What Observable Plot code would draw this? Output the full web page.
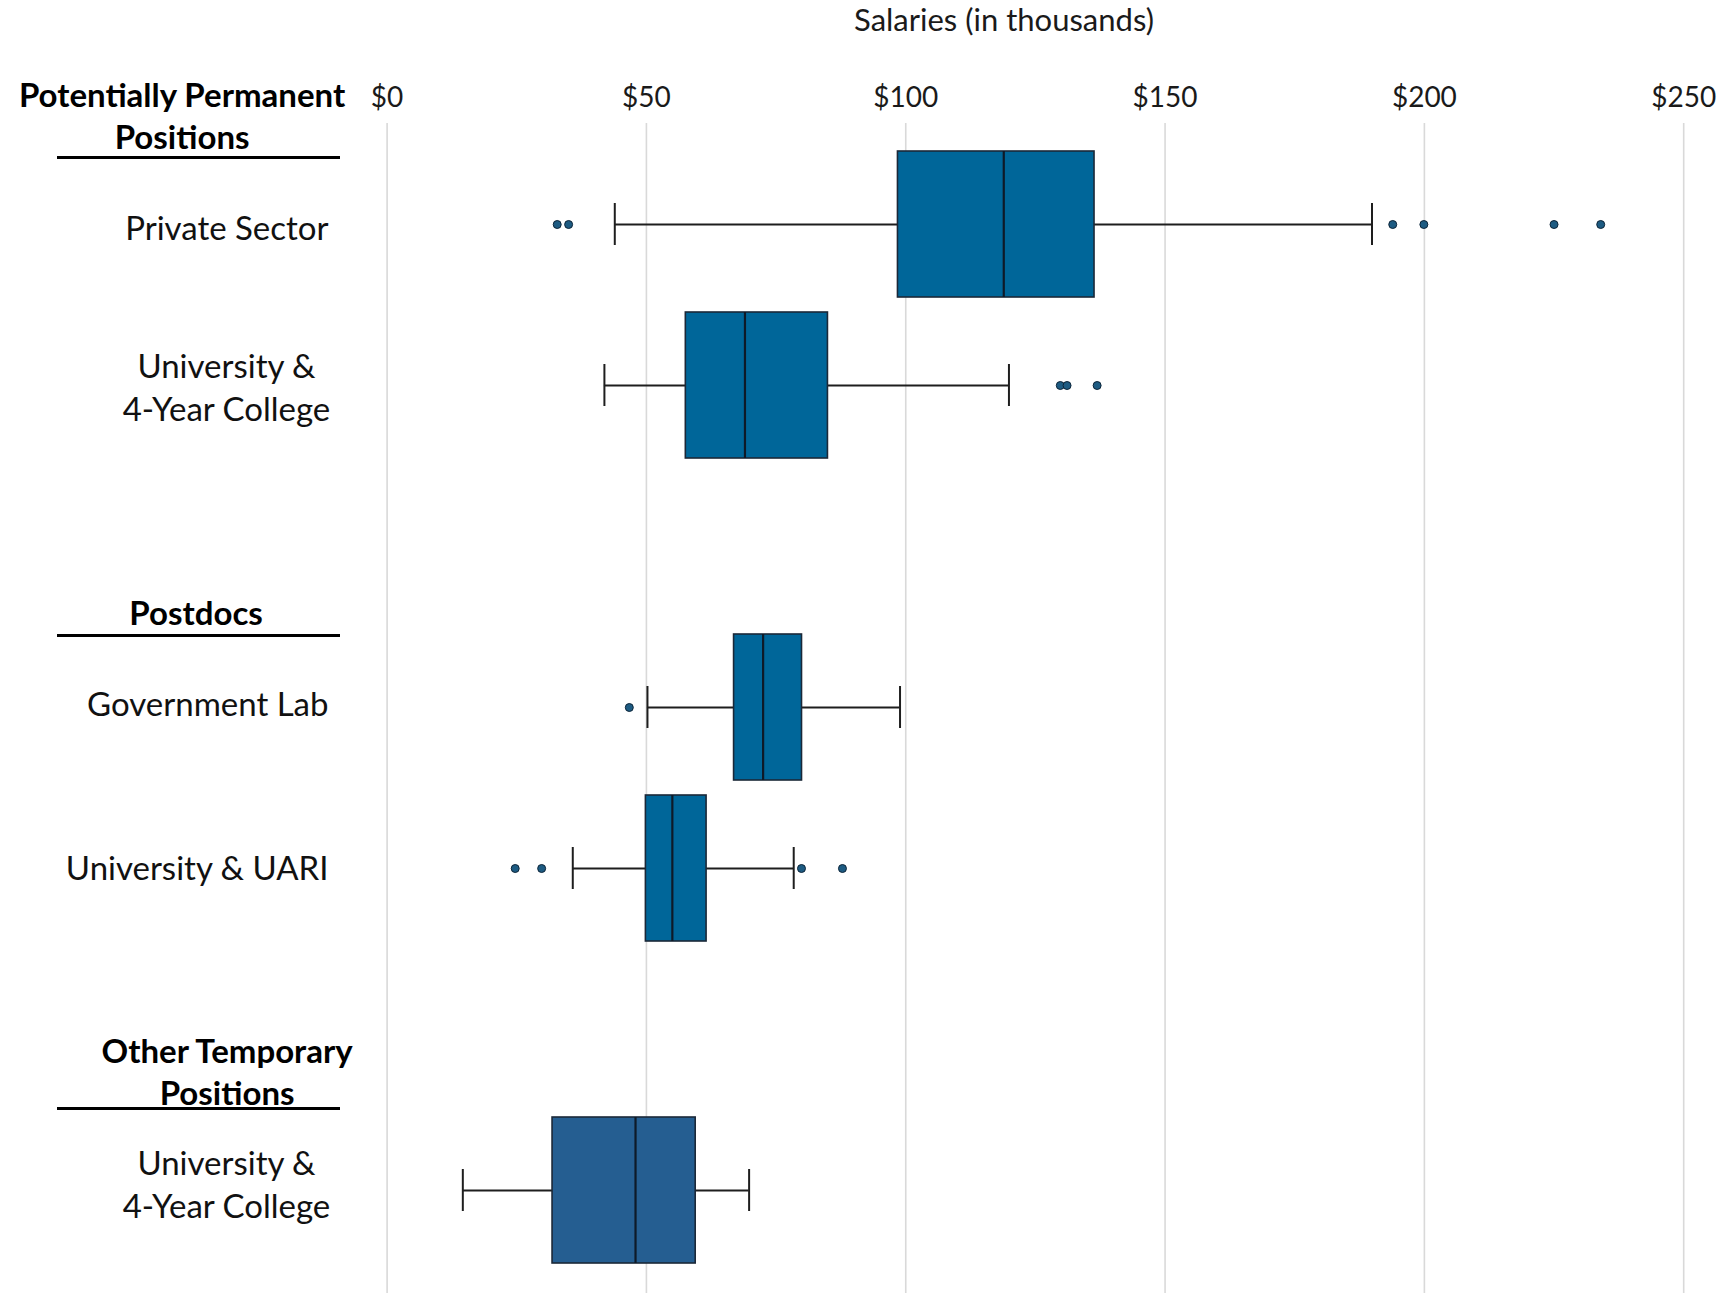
<!DOCTYPE html>
<html>
<head>
<meta charset="utf-8">
<script src="https://cdn.jsdelivr.net/npm/d3@7"></script>
<script src="https://cdn.jsdelivr.net/npm/@observablehq/plot@0.6"></script>
<style>
  html, body { margin: 0; padding: 0; background: #fff; }
  #wrap { position: relative; width: 1722px; height: 1293px; overflow: hidden; font-family: Lato, "Open Sans", sans-serif; }
  #title { position: absolute; top: 0px; left: 1004px; transform: translateX(-50%); font-size: 31px; color: #1a1a1a; white-space: nowrap; }
  #chart { position: absolute; top: 0; left: 0; }
</style>
</head>
<body>
<div id="wrap">
  <div id="chart"></div>
  <div id="title">Salaries (in thousands)</div>
</div>
<script>
// ---- data (salaries, in thousands of dollars) ----
const rowIds = ["PS", "U4P", "GL", "UARI", "U4T"];
const rowLabels = ["Private Sector", "University &\n4-Year College", "Government Lab", "University & UARI", "University &\n4-Year College"];
const rowGroups = ["Potentially Permanent Positions", "Potentially Permanent Positions", "Postdocs", "Postdocs", "Other Temporary Positions"];
const whiskerLow = [43.9, 41.9, 50.2, 35.8, 14.6];
const q1 = [98.5, 57.6, 66.9, 49.9, 31.9];
const median = [118.9, 69.0, 72.5, 55.0, 47.9];
const q3 = [136.4, 85.0, 80.0, 61.6, 59.5];
const whiskerHigh = [189.9, 119.9, 98.9, 78.4, 69.8];
const outliers = [
  [32.8, 35.0, 193.9, 199.9, 225.0, 234.0],
  [129.8, 131.1, 136.9],
  [46.7],
  [24.7, 29.8, 79.9, 87.8],
  []
];
const groupNames = ["Potentially Permanent Positions", "Postdocs", "Other Temporary Positions"];
const groupHeaders = ["Potentially Permanent\nPositions", "Postdocs", "Other Temporary\nPositions"];
const groupFirstRow = ["PS", "GL", "U4T"];
const xTicks = [0, 50, 100, 150, 200, 250];

// ---- derived tables ----
const rows = rowIds.map((id, i) => ({
  id, label: rowLabels[i], group: rowGroups[i],
  low: whiskerLow[i], q1: q1[i], median: median[i], q3: q3[i], high: whiskerHigh[i]
}));
const caps = rows.flatMap(r => [{id: r.id, x: r.low}, {id: r.id, x: r.high}]);
const outlierPts = rowIds.flatMap((id, i) => outliers[i].map(v => ({id, x: v})));
const yOrder = ["PS", "U4P", "gap1", "GL", "UARI", "gap2", "U4T"];

const FONT = "Lato, 'Open Sans', sans-serif";
const FS = 33;
const marginLeft = 386.6, marginRight = 38.8;
// per-row label vertical nudges (pixels)
const labelDy = {PS: 2, U4P: 0, GL: -5, UARI: -2, U4T: -8};
// per-group header layout (pixel offsets from the first row of each group)
const headerLayout = [
  {dy: -110, dx: -205, lineDy: -67},
  {dy: -96, dx: -191, lineDy: -72},
  {dy: -120, dx: -160, lineDy: -82}
];

const headerMarks = groupHeaders.flatMap((h, i) => {
  const d = [{id: groupFirstRow[i], text: h}];
  return [
    Plot.text(d, {y: "id", text: "text", frameAnchor: "left", dx: headerLayout[i].dx, dy: headerLayout[i].dy,
      textAnchor: "middle", lineAnchor: "middle", lineHeight: 1.27, fontWeight: "bold", fontSize: FS, fill: "#000"}),
    Plot.ruleY(d, {y: "id", dy: headerLayout[i].lineDy, insetLeft: 57 - marginLeft, insetRight: (1722 - marginRight) - 340,
      stroke: "#000", strokeWidth: 3.2})
  ];
});

const labelMarks = rows.map(r => {
  const multi = r.label.includes("\n");
  return Plot.text([r], {y: "id", text: "label", frameAnchor: "left",
    dx: multi ? 226 - marginLeft : 328 - marginLeft, dy: labelDy[r.id],
    textAnchor: multi ? "middle" : "end", lineAnchor: "middle", lineHeight: 1.3, fontSize: FS, fill: "#111"});
});

const chart = Plot.plot({
  width: 1722,
  height: 1293,
  marginTop: 123,
  marginBottom: 0,
  marginLeft,
  marginRight,
  style: {fontFamily: FONT, fontSize: FS + "px", color: "#1a1a1a", background: "#fff", overflow: "visible"},
  x: {domain: [0, 250], axis: null},
  y: {type: "band", domain: yOrder, range: [135.4, 1278.5], padding: 0.091, axis: null},
  color: {domain: groupNames, range: ["#006699", "#006699", "#255e91"]},
  marks: [
    Plot.gridX(xTicks, {stroke: "#d9d9d9", strokeOpacity: 1, strokeWidth: 1.6}),
    Plot.axisX(xTicks, {anchor: "top", tickSize: 0, tickPadding: 17, tickFormat: d => "$" + d, fontSize: 28, fill: "#1a1a1a", label: null}),
    // whiskers
    Plot.ruleY(rows, {y: "id", x1: "low", x2: "high", stroke: "#1e1e1e", strokeWidth: 2}),
    Plot.tickX(caps, {y: "id", x: "x", stroke: "#1e1e1e", strokeWidth: 2, insetTop: 52, insetBottom: 52}),
    // boxes
    Plot.barX(rows, {y: "id", x1: "q1", x2: "q3", fill: "group", stroke: "#1b2838", strokeWidth: 1.6}),
    Plot.tickX(rows, {y: "id", x: "median", stroke: "#0e1a28", strokeWidth: 2.2}),
    // outliers
    Plot.dot(outlierPts, {y: "id", x: "x", r: 4, fill: "#1d5b82", stroke: "#0c2438", strokeWidth: 1}),
    // row labels
    ...labelMarks,
    ...headerMarks
  ]
});
document.getElementById("chart").appendChild(chart);
</script>
</body>
</html>
